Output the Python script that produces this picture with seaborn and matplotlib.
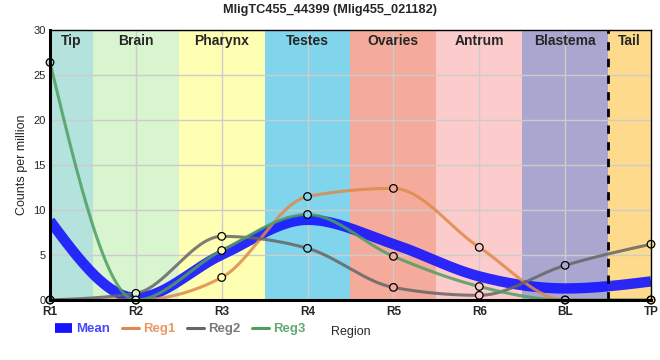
import numpy as np
import pandas as pd
import matplotlib
matplotlib.use("Agg")
import matplotlib.pyplot as plt
from matplotlib.lines import Line2D
import seaborn as sns

# dane
regions = ["R1", "R2", "R3", "R4", "R5", "R6", "BL", "TP"]
reg1 = [0.0, 0.0, 2.5, 11.5, 12.4, 5.85, 0.0, 0.0]
reg2 = [0.0, 0.74, 7.07, 5.74, 1.4, 0.52, 3.85, 6.2]
reg3 = [26.4, 0.0, 5.5, 9.5, 4.85, 1.5, 0.0, 0.0]

bands = ["Tip", "Brain", "Pharynx", "Testes", "Ovaries", "Antrum", "Blastema", "Tail"]
band_edges = [0, 0.5, 1.5, 2.5, 3.5, 4.5, 5.5, 6.5, 7]
band_colors = ["#b4e3dd", "#d8f5d0", "#ffffb4", "#80d4eb", "#f4ab9c",
               "#fccbcb", "#a9a7cf", "#fedb8c"]

mean = np.mean([reg1, reg2, reg3], axis=0)


def monotone_curve(y, n=60):
    # krzywa monotoniczna (jak d3.curveMonotoneX)
    x = np.arange(len(y), dtype=float)
    y = np.asarray(y, dtype=float)
    h = np.diff(x)
    s = np.diff(y) / h
    m = np.zeros(len(y))
    for i in range(1, len(y) - 1):
        p = (s[i - 1] * h[i] + s[i] * h[i - 1]) / (h[i - 1] + h[i])
        m[i] = (np.sign(s[i - 1]) + np.sign(s[i])) * min(abs(s[i - 1]), abs(s[i]), 0.5 * abs(p))
    m[0] = (3 * s[0] - m[1]) / 2
    m[-1] = (3 * s[-1] - m[-2]) / 2
    xs, ys = [], []
    for i in range(len(y) - 1):
        t = np.linspace(0, 1, n)
        h00 = 2 * t**3 - 3 * t**2 + 1
        h10 = t**3 - 2 * t**2 + t
        h01 = -2 * t**3 + 3 * t**2
        h11 = t**3 - t**2
        xs.append(x[i] + t * h[i])
        ys.append(h00 * y[i] + h10 * h[i] * m[i] + h01 * y[i + 1] + h11 * h[i] * m[i + 1])
    return np.concatenate(xs), np.concatenate(ys)


def band_color_at(xv):
    for i in range(len(bands)):
        if xv <= band_edges[i + 1]:
            return band_colors[i]
    return band_colors[-1]


sns.set_style("whitegrid", {"grid.color": "#cccccc", "axes.edgecolor": "black"})
plt.rcParams["font.family"] = ["Liberation Sans", "DejaVu Sans"]

fig = plt.figure(figsize=(6.6, 3.6), dpi=100)
ax = fig.add_axes([50 / 660, 60 / 360, 601 / 660, 270 / 360])

for i, name in enumerate(bands):
    ax.axvspan(band_edges[i], band_edges[i + 1], color=band_colors[i], lw=0, zorder=0)
    ax.text((band_edges[i] + band_edges[i + 1]) / 2, 0.958, name, transform=ax.get_xaxis_transform(),
            ha="center", va="center", fontsize=10, fontweight="bold")
ax.set_axisbelow(True)
ax.grid(True, color="#cccccc", lw=1, zorder=0.5)

xm, ym = monotone_curve(mean)
sns.lineplot(x=xm, y=ym, ax=ax, color="#1414ff", lw=7.5, alpha=0.9, sort=False,
             solid_capstyle="butt", zorder=3)

series = [("Reg1", reg1, "#e0894a"), ("Reg2", reg2, "#666666"), ("Reg3", reg3, "#4f9e62")]
for name, vals, col in series:
    xs, ys = monotone_curve(vals)
    sns.lineplot(x=xs, y=ys, ax=ax, color=col, lw=2.2, alpha=0.85, sort=False, zorder=4)
for name, vals, col in series:
    faces = [band_color_at(i) for i in range(len(vals))]
    ax.scatter(range(len(vals)), vals, s=30, c=faces, edgecolors="black",
               linewidths=0.9, zorder=6, clip_on=False)

ax.axvline(6.5, color="black", lw=2, ls=(0, (3, 3)), zorder=5)

ax.set_xlim(0, 7)
ax.set_ylim(0, 30)
ax.set_xticks(range(len(regions)))
ax.set_xticklabels(regions, fontsize=8.5, fontweight="bold")
ax.set_yticks(range(0, 31, 5))
ax.tick_params(axis="y", labelsize=8, length=0, pad=3)
ax.tick_params(axis="x", length=0, pad=4)
ax.set_ylabel("Counts per million", fontsize=9, labelpad=4)
ax.set_xlabel("Region", fontsize=9, labelpad=6)
ax.set_title("MligTC455_44399 (Mlig455_021182)", fontsize=9.2, fontweight="bold", pad=12,
             x=(330 - 50) / 601)

for side in ["left", "bottom"]:
    ax.spines[side].set_linewidth(2.2)
for side in ["top", "right"]:
    ax.spines[side].set_linewidth(1)
for sp in ax.spines.values():
    sp.set_color("black")
    sp.set_zorder(7)

handles = [Line2D([], [], color="#1414ff", lw=7, solid_capstyle="butt")]
handles += [Line2D([], [], color=c, lw=2.2) for _, _, c in series]
leg = fig.legend(handles, ["Mean", "Reg1", "Reg2", "Reg3"], loc="center left",
                 bbox_to_anchor=(55 / 660, 1 - 329 / 360), ncol=4, frameon=False,
                 fontsize=9.5, handlelength=1.3, handletextpad=0.3, columnspacing=0.9,
                 borderaxespad=0, borderpad=0)
for txt, col in zip(leg.get_texts(), ["#4646ff", "#e89a64", "#7a7a7a", "#62aa74"]):
    txt.set_color(col)
    txt.set_fontweight("bold")

fig.savefig("out.png", dpi=100)
